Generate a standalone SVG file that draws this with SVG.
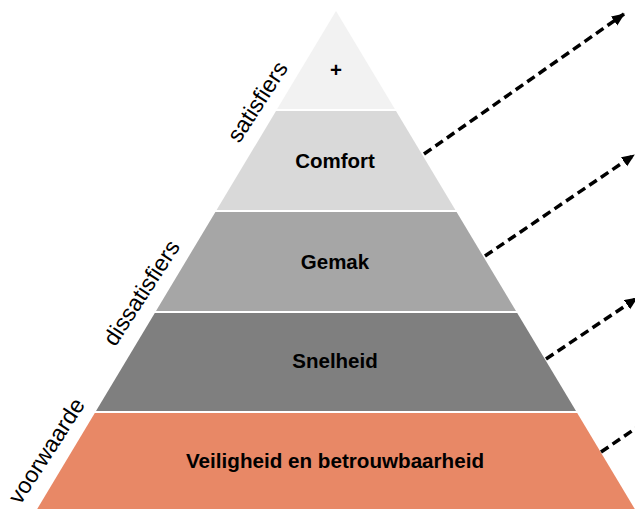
<svg xmlns="http://www.w3.org/2000/svg" width="635" height="509" viewBox="0 0 635 509">
  <style>
    .lbl { font-family: "Liberation Sans", Arial, sans-serif; font-weight: bold; font-size: 20.5px; fill: #000; text-anchor: middle; }
    .side { font-family: "Liberation Sans", Arial, sans-serif; font-size: 23px; fill: #000; text-anchor: middle; }
    .arrow { fill: none; stroke: #000; stroke-width: 3.5; stroke-dasharray: 9 5; marker-end: url(#head); }
  </style>
  <defs>
    <marker id="head" markerUnits="userSpaceOnUse" markerWidth="14" markerHeight="12" refX="12" refY="5.5" orient="auto">
      <path d="M0,0 L13,5.5 L0,11 Z" fill="#000"/>
    </marker>
  </defs>
  <rect width="635" height="509" fill="#ffffff"/>

  <g id="level-plus">
    <polygon points="336,11 394.8,109 277.2,109" fill="#f2f2f2"/>
    <text class="lbl" x="336" y="77">+</text>
  </g>
  <g id="level-comfort">
    <polygon points="276,111 396,111 455.4,210 216.6,210" fill="#d9d9d9"/>
    <text class="lbl" x="335" y="168">Comfort</text>
  </g>
  <g id="level-gemak">
    <polygon points="215.4,212 456.6,212 516,311 156,311" fill="#a6a6a6"/>
    <text class="lbl" x="335" y="269">Gemak</text>
  </g>
  <g id="level-snelheid">
    <polygon points="154.8,313 517.2,313 576,411 96,411" fill="#7f7f7f"/>
    <text class="lbl" x="335" y="368">Snelheid</text>
  </g>
  <g id="level-veiligheid">
    <polygon points="94.8,413 577.2,413 634.8,509 37.2,509" fill="#e88866"/>
    <text class="lbl" x="335" y="468" textLength="298" lengthAdjust="spacingAndGlyphs">Veiligheid en betrouwbaarheid</text>
  </g>

  <g id="side-labels">
    <text class="side" transform="translate(264,106) rotate(-57)">satisfiers</text>
    <text class="side" transform="translate(148,297) rotate(-57)">dissatisfiers</text>
    <text class="side" transform="translate(53,455) rotate(-57)">voorwaarde</text>
  </g>

  <g id="connectors">
    <line class="arrow" x1="424" y1="154" x2="624" y2="14"/>
    <line class="arrow" x1="485" y1="256" x2="634" y2="155"/>
    <line class="arrow" x1="546" y1="359" x2="637" y2="298"/>
    <line class="arrow" x1="601" y1="452" x2="648" y2="420"/>
  </g>
</svg>
